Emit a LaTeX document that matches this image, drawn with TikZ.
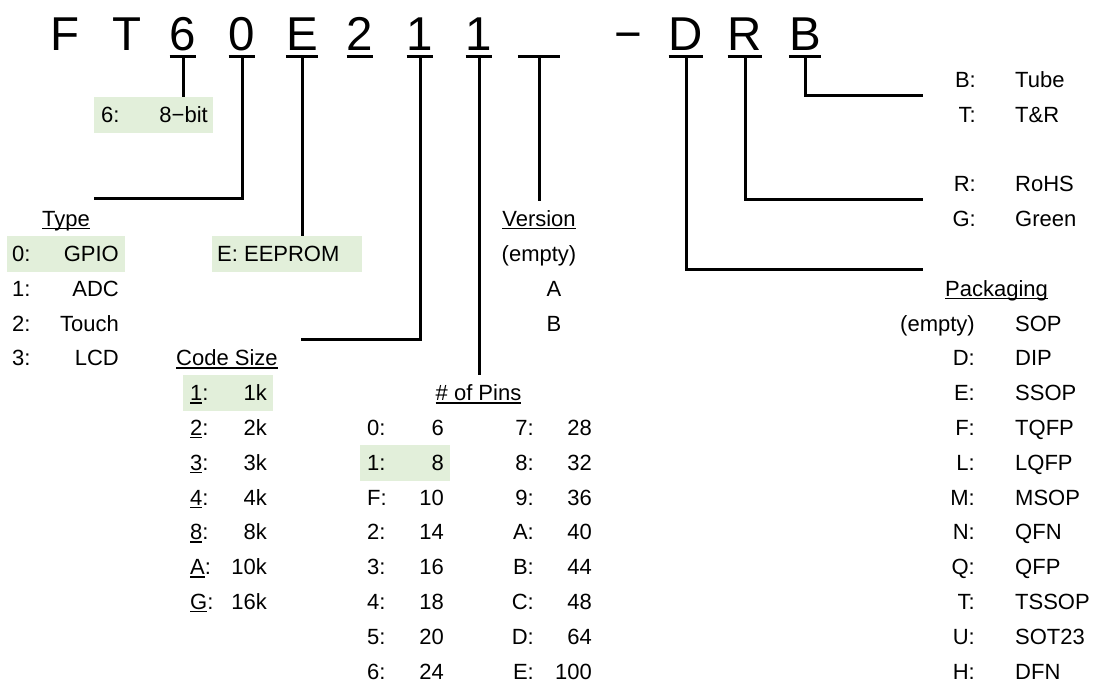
\documentclass[tikz,border=0pt]{standalone}
\usepackage{fontspec}
\setmainfont{Liberation Sans}
\usetikzlibrary{positioning}
\definecolor{hlgreen}{HTML}{E2EFDA}
\newsavebox\hdbox
\newcommand\hdline[1]{\sbox\hdbox{#1}\rlap{\rule[-2.8pt]{\wd\hdbox}{1.4pt}}\usebox\hdbox}
\tikzset{
  code/.style={font=\fontsize{47.5}{56}\selectfont,inner sep=0pt,anchor=base},
  key/.style={font=\fontsize{22}{26}\selectfont,inner sep=0pt,anchor=base west},
  valr/.style={key,anchor=base east},
  head/.style={key,anchor=base},
  hl/.style={fill=hlgreen,draw=none,inner sep=0pt,minimum height=36pt},
  uline/.style={line width=3pt},
  wire/.style={line width=3pt},
}
\begin{document}
\begin{tikzpicture}[x=1pt,y=-1pt]
    \useasboundingbox (0,0) rectangle (1096,682);
    \def\by#1{87.5+34.8*#1}
    % part number
    \foreach \ch/\xx/\nm in {F/65/cF,T/127/cT,6/183/cBit,0/242/cType,E/302/cMem,2/360/cSeries,1/420/cSize,1/479/cPins,−/628/cDash,D/686/cPkg,R/745/cRohs,B/805/cShip}
        \node[code] (\nm) at (\xx,51) {\ch};
    \node[code,minimum width=42pt] (cVer) at (539,51) {\vphantom{0}};
    \foreach \nm in {cBit,cType,cMem,cSeries,cSize,cPins,cVer,cPkg,cRohs,cShip}
        \draw[uline] (\nm.west |- 0,57) -- (\nm.east |- 0,57);
    % highlighted choices
    \node[hl,minimum width=119pt] (bitBox) at (153.5,{\by{1}-7.5}) {};
    \node[hl,minimum width=118pt] (typeBox) at (66,{\by{5}-7.5}) {};
    \node[hl,minimum width=150pt] (memBox) at (287,{\by{5}-7.5}) {};
    \node[hl,minimum width=90pt] (sizeBox) at (228,{\by{9}-7.5}) {};
    \node[hl,minimum width=90pt] (pinBox) at (405,{\by{11}-7.5}) {};
    % 8-bit, memory
    \node[key] (bitK) at (101,{\by{1}}) {6:};
    \node[valr] (bitV) at (208,{\by{1}}) {8−bit};
    \node[key] (memK) at (217,{\by{5}}) {E: EEPROM};
    % type
    \node[head] (typeHd) at (66,{\by{4}}) {\hdline{Type}};
    \foreach \k/\v [count=\i from 5] in {0/GPIO,1/ADC,2/Touch,3/LCD} {
        \node[key] (tyK\i) at (12,{\by{\i}}) {\k:};
        \node[valr] (tyV\i) at (119,{\by{\i}}) {\v};
    }
    % code size
    \node[key] (sizeHd) at (176,{\by{8}}) {\hdline{Code Size}};
    \foreach \k/\v [count=\i from 9] in {1/1k,2/2k,3/3k,4/4k,8/8k,A/10k,G/16k} {
        \node[key] (szK\i) at (190,{\by{\i}}) {\hdline{\k}:};
        \node[valr] (szV\i) at (267,{\by{\i}}) {\v};
    }
    % pins
    \node[head] (pinHd) at (478.5,{\by{9}}) {\hdline{\# of Pins}};
    \foreach \k/\v [count=\i from 10] in {0/6,1/8,F/10,2/14,3/16,4/18,5/20,6/24} {
        \node[key] (pnK\i) at (367,{\by{\i}}) {\k:};
        \node[valr] (pnV\i) at (444,{\by{\i}}) {\v};
    }
    \foreach \k/\v [count=\i from 10] in {7/28,8/32,9/36,A/40,B/44,C/48,D/64,E/100} {
        \node[valr] (pmK\i) at (534,{\by{\i}}) {\k:};
        \node[valr] (pmV\i) at (592,{\by{\i}}) {\v};
    }
    % version
    \node[head] (verHd) at (539,{\by{4}}) {\hdline{Version}};
    \node[head] (verE) at (539,{\by{5}}) {(empty)};
    \node[head] (verA) at (554,{\by{6}}) {A};
    \node[head] (verB) at (554,{\by{7}}) {B};
    % shipping, rohs
    \foreach \k/\v/\r in {B/Tube/0,T/T\&R/1,R/RoHS/3,G/Green/4} {
        \node[valr] (rtK\r) at (976,{\by{\r}}) {\k:};
        \node[key] (rtV\r) at (1015,{\by{\r}}) {\v};
    }
    % packaging
    \node[head] (pkgHd) at (996.5,{\by{6}}) {\hdline{Packaging}};
    \foreach \k/\v [count=\i from 7] in {(empty)/SOP,D:/DIP,E:/SSOP,F:/TQFP,L:/LQFP,M:/MSOP,N:/QFN,Q:/QFP,T:/TSSOP,U:/SOT23,H:/DFN} {
        \node[valr] (pkK\i) at (975,{\by{\i}}) {\k};
        \node[key] (pkV\i) at (1015,{\by{\i}}) {\v};
    }
    % connectors
    \coordinate (tyEnd) at (94,199);
    \coordinate (szEnd) at (301,339);
    \coordinate (pkEnd) at (923,269);
    \coordinate (rhEnd) at (923,200);
    \coordinate (shEnd) at (923,96);
    \draw[wire] (cBit.south |- 0,57) -- (cBit.south |- bitBox.north);
    \draw[wire] (cType.south |- 0,57) |- (tyEnd);
    \draw[wire] (cMem.south |- 0,57) -- (cMem.south |- memBox.north);
    \draw[wire] (cSize.south |- 0,57) |- (szEnd);
    \draw[wire,shorten >=10pt] (cPins.south |- 0,57) -- (cPins.south |- pinHd.north);
    \draw[wire,shorten >=10pt] (cVer.south |- 0,57) -- (cVer.south |- verHd.north);
    \draw[wire] (cPkg.south |- 0,57) |- (pkEnd);
    \draw[wire] (cRohs.south |- 0,57) |- (rhEnd);
    \draw[wire] (cShip.south |- 0,57) |- (shEnd);
\end{tikzpicture}
\end{document}
